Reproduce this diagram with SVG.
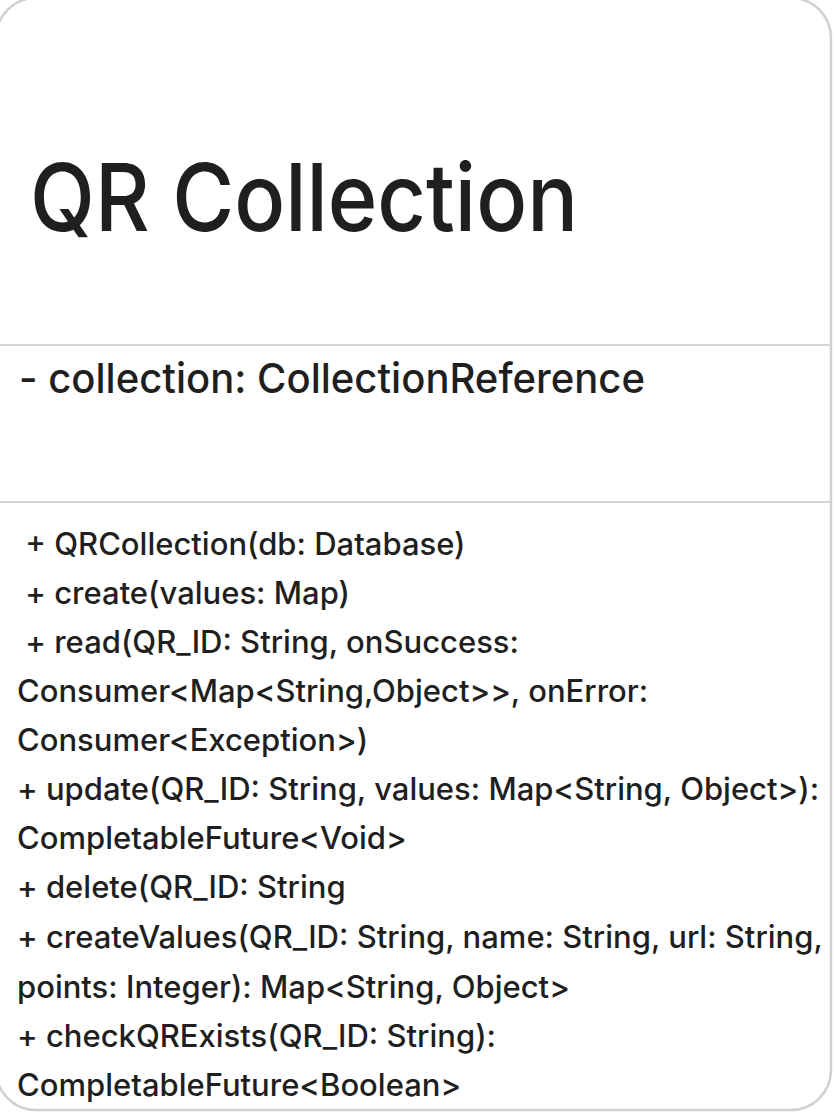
<svg xmlns="http://www.w3.org/2000/svg" width="834" height="1115" viewBox="0 0 834 1115">
<style>
.t{font-family:Inter,"Noto Sans",sans-serif;fill:#1f1f1f;white-space:pre;font-weight:500}
.title{font-size:94px}
.attr{font-size:41px}
.m{font-size:31px}
.sep{stroke:#d4d4d4;stroke-width:2}
</style>
<rect width="834" height="1115" fill="#ffffff"/>
<g id="class-qrcollection">
<rect x="-4" y="-2" width="835" height="1112" rx="40" ry="40" fill="#ffffff" stroke="#d0d0d0" stroke-width="2.5"/>
<text class="t title" x="30" y="231" textLength="548" lengthAdjust="spacingAndGlyphs">QR Collection</text>
<line class="sep" x1="-4" y1="345" x2="831" y2="345"/>
<text class="t attr" x="19" y="393" textLength="626" lengthAdjust="spacingAndGlyphs">- collection: CollectionReference</text>
<line class="sep" x1="-4" y1="502" x2="831" y2="502"/>
<text class="t m" x="17" y="555"> + QRCollection(db: Database)</text>
<text class="t m" x="17" y="604"> + create(values: Map)</text>
<text class="t m" x="17" y="653"> + read(QR_ID: String, onSuccess:</text>
<text class="t m" x="17" y="702">Consumer&lt;Map&lt;String,Object&gt;&gt;, onError:</text>
<text class="t m" x="17" y="751">Consumer&lt;Exception&gt;)</text>
<text class="t m" x="17" y="800">+ update(QR_ID: String, values: Map&lt;String, Object&gt;):</text>
<text class="t m" x="17" y="849">CompletableFuture&lt;Void&gt;</text>
<text class="t m" x="17" y="898">+ delete(QR_ID: String</text>
<text class="t m" x="17" y="948">+ createValues(QR_ID: String, name: String, url: String,</text>
<text class="t m" x="17" y="998">points: Integer): Map&lt;String, Object&gt;</text>
<text class="t m" x="17" y="1047">+ checkQRExists(QR_ID: String):</text>
<text class="t m" x="17" y="1096">CompletableFuture&lt;Boolean&gt;</text>
</g>
<g id="connectors"/>
</svg>
